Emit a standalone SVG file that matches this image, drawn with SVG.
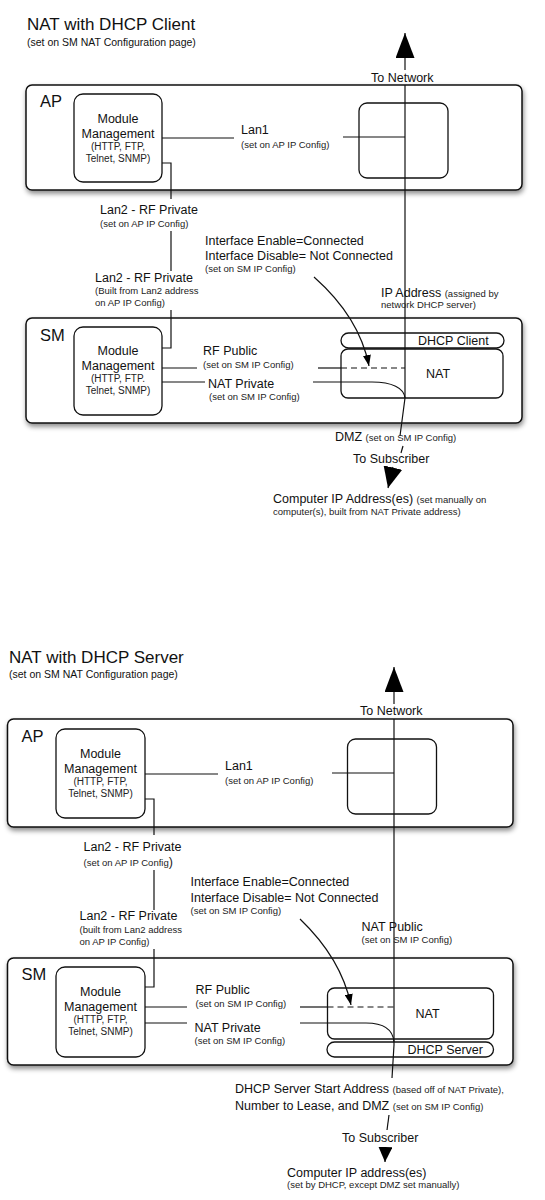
<svg xmlns="http://www.w3.org/2000/svg" width="545" height="1200" viewBox="0 0 545 1200">
<style>
text{font-family:"Liberation Sans",Arial,sans-serif;fill:#111}
.title{font-size:17px}
.sub{font-size:10.5px}
.lbl{font-size:12.5px}
.sm{font-size:9.5px;fill:#222}
.big{font-size:16.5px}
.mm{font-size:12.5px;text-anchor:middle}
.mms{font-size:10px;text-anchor:middle;fill:#222}
.outer{fill:#fff;stroke:#111;stroke-width:1.5;filter:url(#shadow)}
.box{fill:#fff;stroke:#111;stroke-width:1.3}
.conn{fill:none;stroke:#111;stroke-width:1.2}
.dash{stroke-dasharray:6 4}
</style>
<defs>
<filter id="shadow" x="-5%" y="-10%" width="110%" height="130%">
<feDropShadow dx="1" dy="3" stdDeviation="2.5" flood-color="#000" flood-opacity="0.45"/>
</filter>
<marker id="arrowBig" markerUnits="userSpaceOnUse" markerWidth="25" markerHeight="19" viewBox="0 0 25 19" refX="25" refY="9.5" orient="auto"><path d="M0,0 L25,9.5 L0,19 z" fill="#000"/></marker>
<marker id="arrowMid" markerUnits="userSpaceOnUse" markerWidth="21" markerHeight="19" viewBox="0 0 21 19" refX="21" refY="9.5" orient="auto"><path d="M0,0 L21,9.5 L0,19 z" fill="#000"/></marker>
<marker id="arrowSm" markerUnits="userSpaceOnUse" markerWidth="15" markerHeight="14" viewBox="0 0 15 14" refX="15" refY="7" orient="auto"><path d="M0,0 L15,7 L0,14 z" fill="#000"/></marker>
<marker id="arrowTiny" markerUnits="userSpaceOnUse" markerWidth="11" markerHeight="8" viewBox="0 0 11 8" refX="11" refY="4" orient="auto"><path d="M0,0 L11,4 L0,8 z" fill="#000"/></marker>
</defs>
<rect x="0" y="0" width="545" height="1200" fill="#fff"/>

<!-- ===== Top diagram ===== -->
<g id="top-titles">
<text class="title" x="27" y="30">NAT with DHCP Client</text>
<text class="sub" x="27" y="46">(set on SM NAT Configuration page)</text>
</g>
<g id="top-ap">
<rect class="outer" x="26" y="85" width="496" height="105" rx="6"/>
<text class="big" x="40" y="107">AP</text>
</g>
<g id="top-ap-mm">
<rect class="box" x="74" y="94" width="88" height="88" rx="9"/>
<text class="mm" x="118" y="123">Module</text>
<text class="mm" x="118" y="138">Management</text>
<text class="mms" x="118" y="150">(HTTP, FTP,</text>
<text class="mms" x="118" y="162">Telnet, SNMP)</text>
</g>
<g id="top-ap-inner">
<rect class="box" x="359" y="103" width="89" height="75" rx="8"/>
</g>
<g id="top-sm">
<rect class="outer" x="26" y="318" width="496" height="105" rx="6"/>
<text class="big" x="40" y="341">SM</text>
</g>
<g id="top-sm-mm">
<rect class="box" x="74" y="327" width="88" height="88" rx="9"/>
<text class="mm" x="118" y="355">Module</text>
<text class="mm" x="118" y="370">Management</text>
<text class="mms" x="118" y="382">(HTTP, FTP.</text>
<text class="mms" x="118" y="394">Telnet, SNMP)</text>
</g>
<g id="top-dhcp-client">
<rect class="box" x="341" y="333" width="163" height="15" rx="7.5"/>
<text class="lbl" x="418" y="345">DHCP Client</text>
</g>
<g id="top-nat">
<rect class="box" x="341" y="349" width="162" height="49" rx="7"/>
<text class="lbl" x="426" y="378">NAT</text>
</g>

<g id="top-connectors">
<path class="conn" d="M405,70 L405,33" marker-end="url(#arrowBig)"/>
<path class="conn" d="M405,85 V398 L400,436"/>
<path class="conn" d="M403,446 L401,453"/>
<path class="conn" d="M393,467 L388,488" marker-end="url(#arrowMid)"/>
<path class="conn" d="M162,138 H234"/>
<path class="conn" d="M343,137 H405"/>
<path class="conn" d="M162,163 H171 V199"/>
<path class="conn" d="M171,231 V271"/>
<path class="conn" d="M171,310 V348 H162"/>
<path class="conn" d="M162,368 H197"/>
<path class="conn" d="M318,368 H341"/>
<path class="conn dash" d="M341,368 H405"/>
<path class="conn" d="M162,382 H205"/>
<path class="conn" d="M313,382 H372 C392,382 404,388 405,398"/>
<path class="conn" d="M314,277 C340,300 362,330 369,366" marker-end="url(#arrowTiny)"/>
</g>

<g id="top-labels">
<text class="lbl" x="371" y="82">To Network</text>
<text class="lbl" x="241" y="134">Lan1</text>
<text class="sm" x="241" y="148">(set on AP IP Config)</text>
<text class="lbl" x="100" y="214">Lan2 - RF Private</text>
<text class="sm" x="100" y="227">(set on AP IP Config)</text>
<text class="lbl" x="95" y="282">Lan2 - RF Private</text>
<text class="sm" x="95" y="294">(Built from Lan2 address</text>
<text class="sm" x="95" y="306">on AP IP Config)</text>
<text class="lbl" x="205" y="245">Interface Enable=Connected</text>
<text class="lbl" x="205" y="260">Interface Disable= Not Connected</text>
<text class="sm" x="205" y="272">(set on SM IP Config)</text>
<text class="lbl" x="381" y="297">IP Address <tspan class="sm">(assigned by</tspan></text>
<text class="sm" x="381" y="308">network DHCP server)</text>
<text class="lbl" x="203" y="355">RF Public</text>
<text class="sm" x="203" y="368">(set on SM IP Config)</text>
<text class="lbl" x="208" y="388">NAT Private</text>
<text class="sm" x="209" y="400">(set on SM IP Config)</text>
<text class="lbl" x="335" y="441">DMZ <tspan class="sm">(set on SM IP Config)</tspan></text>
<text class="lbl" x="353" y="463">To Subscriber</text>
<text class="lbl" x="273" y="503">Computer IP Address(es) <tspan class="sm">(set manually on</tspan></text>
<text class="sm" x="273" y="515">computer(s), built from NAT Private address)</text>
</g>

<!-- ===== Bottom diagram ===== -->
<g id="bot-titles">
<text class="title" x="9" y="663">NAT with DHCP Server</text>
<text class="sub" x="9" y="678">(set on SM NAT Configuration page)</text>
</g>
<g id="bot-ap">
<rect class="outer" x="7.5" y="719" width="505.5" height="108" rx="6"/>
<text class="big" x="21.5" y="742">AP</text>
</g>
<g id="bot-ap-mm">
<rect class="box" x="56" y="729" width="89" height="89" rx="9"/>
<text class="mm" x="100.5" y="758">Module</text>
<text class="mm" x="100.5" y="773">Management</text>
<text class="mms" x="100.5" y="785">(HTTP, FTP,</text>
<text class="mms" x="100.5" y="797">Telnet, SNMP)</text>
</g>
<g id="bot-ap-inner">
<rect class="box" x="347.5" y="739" width="89" height="75" rx="8"/>
</g>
<g id="bot-sm">
<rect class="outer" x="7.5" y="958" width="505.5" height="107" rx="6"/>
<text class="big" x="21.5" y="980">SM</text>
</g>
<g id="bot-sm-mm">
<rect class="box" x="56" y="967" width="89" height="90" rx="9"/>
<text class="mm" x="100.5" y="996">Module</text>
<text class="mm" x="100.5" y="1011">Management</text>
<text class="mms" x="100.5" y="1023">(HTTP, FTP,</text>
<text class="mms" x="100.5" y="1035">Telnet, SNMP)</text>
</g>
<g id="bot-nat">
<rect class="box" x="327.5" y="988" width="166" height="51" rx="7"/>
<text class="lbl" x="415.5" y="1018">NAT</text>
</g>
<g id="bot-dhcp-server">
<rect class="box" x="327" y="1042" width="166.5" height="15" rx="7.5"/>
<text class="lbl" x="407.5" y="1054">DHCP Server</text>
</g>

<g id="bot-connectors">
<path class="conn" d="M394,704 L394,667" marker-end="url(#arrowBig)"/>
<path class="conn" d="M394,719 V1045 L392,1078"/>
<path class="conn" d="M389,1115 L387,1130"/>
<path class="conn" d="M385.5,1147 L385,1162" marker-end="url(#arrowSm)"/>
<path class="conn" d="M145,774 H218"/>
<path class="conn" d="M332,773 H394"/>
<path class="conn" d="M145,799 H154 V835"/>
<path class="conn" d="M154,870 V910"/>
<path class="conn" d="M154,949 V987 H145"/>
<path class="conn" d="M145,1007 H187"/>
<path class="conn" d="M300,1007 H327.5"/>
<path class="conn dash" d="M327.5,1007 H394"/>
<path class="conn" d="M145,1023 H187"/>
<path class="conn" d="M300,1023 H366 C384,1023 393,1030 394,1042"/>
<path class="conn" d="M300,919 C324,942 344,972 351,1005" marker-end="url(#arrowTiny)"/>
</g>

<g id="bot-labels">
<text class="lbl" x="360" y="715">To Network</text>
<text class="lbl" x="225" y="770">Lan1</text>
<text class="sm" x="225" y="784">(set on AP IP Config)</text>
<text class="lbl" x="83.5" y="851">Lan2 - RF Private</text>
<text class="sm" x="83.5" y="866">(set on AP IP Config<tspan class="lbl">)</tspan></text>
<text class="lbl" x="79.5" y="920">Lan2 - RF Private</text>
<text class="sm" x="79.5" y="933">(built from Lan2 address</text>
<text class="sm" x="79.5" y="945">on AP IP Config)</text>
<text class="lbl" x="190.5" y="886">Interface Enable=Connected</text>
<text class="lbl" x="190.5" y="902">Interface Disable= Not Connected</text>
<text class="sm" x="190.5" y="914">(set on SM IP Config)</text>
<text class="lbl" x="361.5" y="931">NAT Public</text>
<text class="sm" x="361.5" y="943">(set on SM IP Config)</text>
<text class="lbl" x="195.5" y="994">RF Public</text>
<text class="sm" x="195.5" y="1007">(set on SM IP Config)</text>
<text class="lbl" x="194.5" y="1032">NAT Private</text>
<text class="sm" x="194.5" y="1044">(set on SM IP Config)</text>
<text class="lbl" x="235" y="1093">DHCP Server Start Address <tspan class="sm">(based off of NAT Private),</tspan></text>
<text class="lbl" x="235" y="1110">Number to Lease, and DMZ <tspan class="sm">(set on SM IP Config)</tspan></text>
<text class="lbl" x="342" y="1142">To Subscriber</text>
<text class="lbl" x="287" y="1177">Computer IP address(es)</text>
<text class="sm" x="287" y="1188">(set by DHCP, except DMZ set manually)</text>
</g>
</svg>
